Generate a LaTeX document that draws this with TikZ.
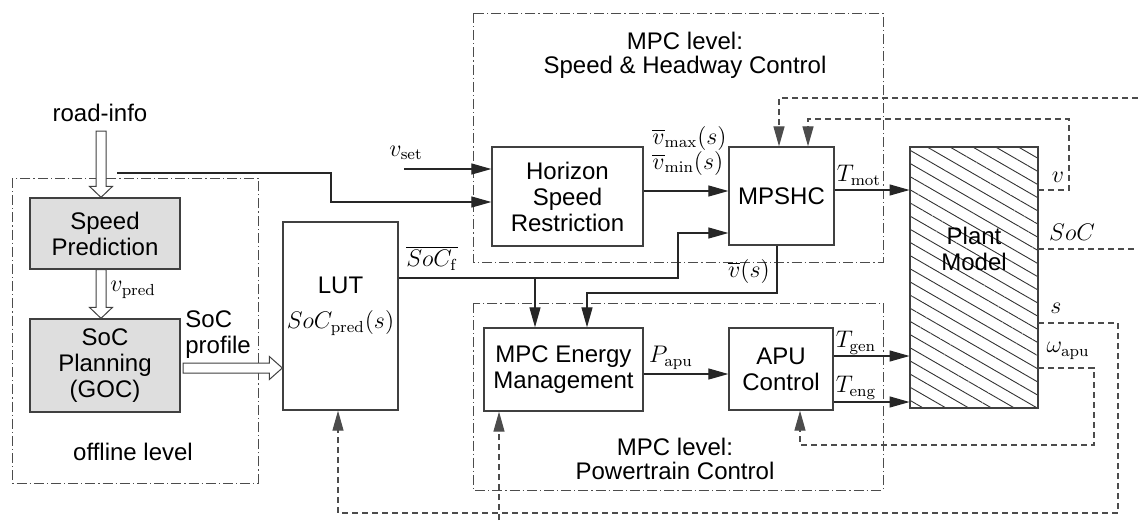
\documentclass[tikz,border=0pt]{standalone}
\usepackage[no-math]{fontspec}
\setmainfont{Liberation Sans}
\usetikzlibrary{arrows.meta,patterns.meta,calc}
\tikzset{
  box/.style={draw=black!75, line width=0.65pt, align=center, inner sep=0pt},
  gbox/.style={box, fill=black!13},
  region/.style={draw=black!70, line width=0.5pt, dash pattern=on 5pt off 1.5pt on 0.6pt off 1.5pt},
  arr/.style={draw=black!85, line width=0.6pt, -{Triangle[length=10pt,width=5.5pt]}},
  fbline/.style={draw=black!70, line width=0.6pt, dash pattern=on 3pt off 2pt},
  fb/.style={fbline, -{Triangle[length=10pt,width=5.5pt]}},
  hollow/.style={draw=black!75, line width=0.5pt, fill=white},
  lbl/.style={inner sep=0pt}
}
\newcommand\hollowdown[2]{\draw[hollow] let \p1=#1, \p2=#2 in
  (\x1-2.5pt,\y1) -- (\x1-2.5pt,\y2+5.5pt) -- (\x1-5.75pt,\y2+5.5pt) -- (\x1,\y2)
  -- (\x1+5.75pt,\y2+5.5pt) -- (\x1+2.5pt,\y2+5.5pt) -- (\x1+2.5pt,\y1) -- cycle;}
\newcommand\hollowright[2]{\draw[hollow] let \p1=#1, \p2=#2 in
  (\x1,\y1+2.5pt) -- (\x2-6.5pt,\y1+2.5pt) -- (\x2-6.5pt,\y1+5.75pt) -- (\x2,\y1)
  -- (\x2-6.5pt,\y1-5.75pt) -- (\x2-6.5pt,\y1-2.5pt) -- (\x1,\y1-2.5pt) -- cycle;}
\begin{document}
\begin{tikzpicture}[x=0.5pt,y=-0.5pt, font=\fontsize{12}{13}\selectfont]
\useasboundingbox (0,0) rectangle (1138,520);

% region frames
\draw[region] (12,178) rectangle (258,483);
\draw[region] (473,13) rectangle (883,262);
\draw[region] (473,303) rectangle (883,490);
\node[lbl, align=center, font=\fontsize{12}{12}\selectfont] (shclbl) at (685,55) {MPC level:\\Speed \& Headway Control};
\node[lbl, align=center, font=\fontsize{12}{12}\selectfont] (ptlbl) at (675,459) {MPC level:\\Powertrain Control};
\node[lbl] (offlbl) at (133,452) {offline level};

% blocks
\node[gbox, minimum width=75pt, minimum height=35.5pt] (sp) at (105,233.5) {Speed\\Prediction};
\node[gbox, minimum width=75pt, minimum height=46.5pt] (soc) at (105,365.5) {SoC\\Planning\\(GOC)};
\node[box, minimum width=57.5pt, minimum height=94pt] (lut) at (340.5,316) {};
\node[lbl] (lutt) at (340.5,285) {LUT};
\node[lbl] (lutm) at (340.5,323) {$SoC_{\mathrm{pred}}(s)$};
\node[box, minimum width=75.5pt, minimum height=49.5pt] (hsr) at (567.5,196.5) {Horizon\\Speed\\Restriction};
\node[box, minimum width=52.5pt, minimum height=49pt] (mpshc) at (781.5,196) {MPSHC};
\node[box, minimum width=64pt, minimum height=130.5pt,
      pattern={Lines[angle=-30,distance=5.7pt,line width=0.45pt]}, pattern color=black!80] (plant) at (974,277.5) {};
\node[lbl, align=center] (plantt) at (974,249) {Plant\\Model};
\node[box, minimum width=79.5pt, minimum height=41.5pt] (em) at (563.5,369.5) {MPC Energy\\Management};
\node[box, minimum width=52pt, minimum height=41pt] (apu) at (781,369) {APU\\Control};

% inputs
\node[lbl] (ri) at (100,113) {road-info};
\coordinate (ris) at (101,131);
\hollowdown{(ris)}{(sp.north -| ris)}
\hollowdown{(sp.south -| ris)}{(soc.north -| ris)}
\node[lbl, anchor=west] (vpred) at (110,290) {$v_{\mathrm{pred}}$};
\coordinate (sps) at (183,368);
\hollowright{(sps)}{(lut.west |- sps)}
\node[lbl, anchor=west, align=left] (socp) at (185,334.5) {SoC\\profile};

\coordinate (rl) at (117,173);
\draw[arr] (rl) -| (331,202) -- (hsr.west |- 0,202);
\coordinate (vs) at (404,169);
\node[lbl] (vset) at (406,153) {$v_{\mathrm{set}}$};
\draw[arr] (vs) -- (hsr.west |- vs);

% main signal paths
\draw[arr] (hsr.east |- 0,191) -- (mpshc.west |- 0,191);
\node[lbl, anchor=west] (vmax) at (652,138) {$\overline{v}_{\max}(s)$};
\node[lbl, anchor=west] (vmin) at (652,163) {$\overline{v}_{\min}(s)$};

\draw[arr] (lut.east |- 0,278) -| (678,233) -- (mpshc.west |- 0,233);
\coordinate (br) at (535,278);
\draw[arr] (br) -- (em.north -| br);
\node[lbl] (socf) at (432,258) {$\overline{SoC_{\mathrm{f}}}$};

\draw[arr] (mpshc.south -| 777,0) |- (587,293) -- (em.north -| 587,0);
\node[lbl] (vbar) at (749,271) {$\overline{v}(s)$};

\draw[arr] (mpshc.east |- 0,190) -- (plant.west |- 0,190);
\node[lbl] (tmot) at (859,175) {$T_{\mathrm{mot}}$};

\draw[arr] (em.east |- 0,374) -- (apu.west |- 0,374);
\node[lbl] (papu) at (671,358) {$P_{\mathrm{apu}}$};

\draw[arr] (apu.east |- 0,356) -- (plant.west |- 0,356);
\node[lbl] (tgen) at (856,343) {$T_{\mathrm{gen}}$};
\draw[arr] (apu.east |- 0,402) -- (plant.west |- 0,402);
\node[lbl] (teng) at (856,388) {$T_{\mathrm{eng}}$};

% feedback (dashed)
\coordinate (fbin) at (1138,98);
\draw[fb] (fbin) -| (mpshc.north -| 779,0);
\draw[fb] (plant.east |- 0,190) -- (1069,190) |- (808,119) -- (mpshc.north -| 808,0);
\node[lbl] (vfb) at (1058,177) {$v$};
\coordinate (socout) at (1138,249);
\draw[fbline] (plant.east |- socout) -- (socout);
\node[lbl] (socfb) at (1072,232) {$SoC$};
\draw[fb] (plant.east |- 0,323) -| (1118,513) -| (lut.south -| 338,0);
\node[lbl] (sfb) at (1056,308) {$s$};
\draw[fb] (plant.east |- 0,368) -| (1094,445) -| (apu.south -| 800,0);
\node[lbl] (wfb) at (1068,351) {$\omega_{\mathrm{apu}}$};
\coordinate (bin) at (499,520);
\draw[fb] (bin) -- (em.south -| bin);
\end{tikzpicture}
\end{document}
